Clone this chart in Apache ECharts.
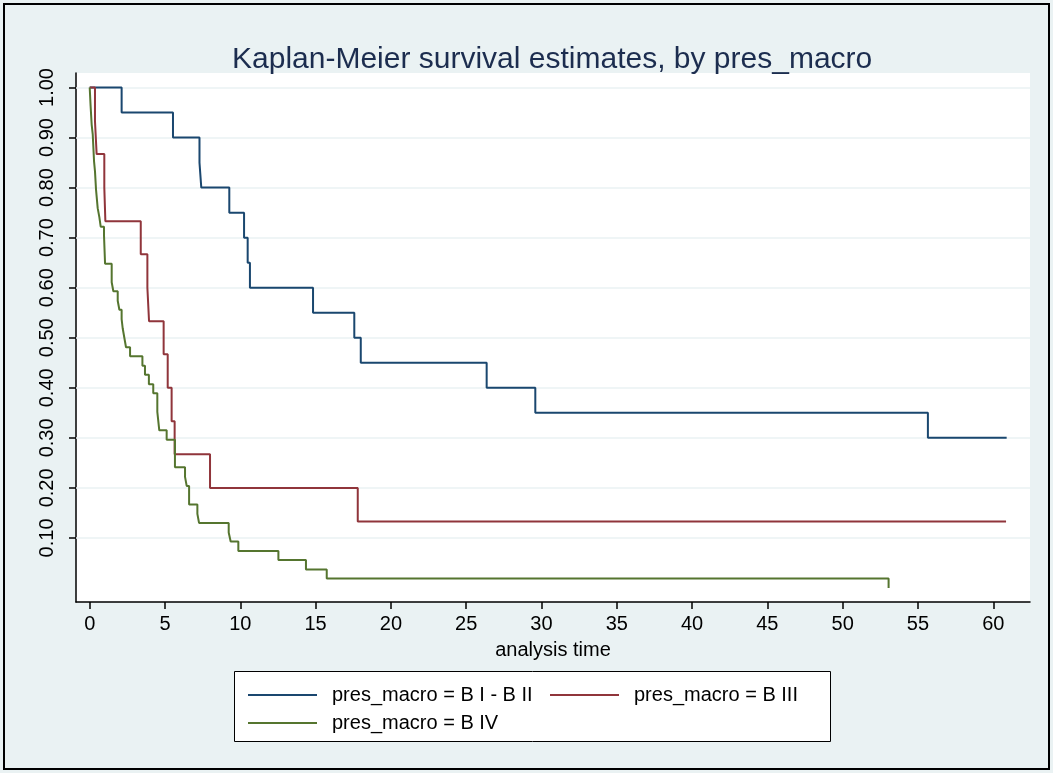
<!DOCTYPE html>
<html>
<head>
<meta charset="utf-8">
<script src="https://cdn.jsdelivr.net/npm/echarts@6/dist/echarts.min.js"></script>
<style>
  html, body { margin: 0; padding: 0; background: #eaf2f3; }
  #chart { width: 1053px; height: 773px; }
</style>
</head>
<body>
<div id="chart"></div>
<script>
// Labels and ticks
const chartTitle = 'Kaplan-Meier survival estimates, by pres_macro';
const xAxisTitle = 'analysis time';
const xTickValues = [0, 5, 10, 15, 20, 25, 30, 35, 40, 45, 50, 55, 60];
const yTickValues = [0.1, 0.2, 0.3, 0.4, 0.5, 0.6, 0.7, 0.8, 0.9, 1.0];
const groupNames = ['pres_macro = B I - B II', 'pres_macro = B III', 'pres_macro = B IV'];

// Kaplan-Meier step functions: time of each step and survival after it
const timesB12 = [0, 2.12, 5.53, 7.29, 7.41, 9.27, 10.25, 10.49, 10.64, 14.83, 17.57, 18.0, 26.36, 29.59, 55.66, 60.89];
const survB12  = [1.0, 0.95, 0.90, 0.85, 0.80, 0.75, 0.70, 0.65, 0.60, 0.55, 0.50, 0.45, 0.40, 0.35, 0.30, 0.30];

const timesB3 = [0, 0.35, 0.46, 0.97, 1.04, 3.39, 3.83, 3.94, 4.91, 5.18, 5.44, 5.64, 7.99, 17.8, 60.85];
const survB3  = [1.0, 0.933, 0.867, 0.800, 0.733, 0.667, 0.600, 0.533, 0.467, 0.400, 0.333, 0.267, 0.200, 0.133, 0.133];

const timesB4 = [0, 0.06, 0.13, 0.20, 0.29, 0.35, 0.42, 0.53, 0.64, 0.73, 0.95, 1.02, 1.46, 1.57, 1.86, 1.97,
                 2.12, 2.19, 2.30, 2.41, 2.68, 3.50, 3.67, 3.93, 4.22, 4.49, 4.62, 5.11, 5.66, 6.33, 6.44,
                 6.60, 7.15, 7.26, 9.23, 9.36, 9.87, 12.53, 14.36, 15.74, 53.05];
const survB4  = [1.0, 0.963, 0.926, 0.907, 0.852, 0.833, 0.796, 0.759, 0.741, 0.722, 0.704, 0.648, 0.611, 0.593, 0.574, 0.556,
                 0.537, 0.519, 0.500, 0.481, 0.463, 0.444, 0.426, 0.407, 0.389, 0.352, 0.315, 0.296, 0.241, 0.222, 0.204,
                 0.167, 0.148, 0.130, 0.111, 0.093, 0.074, 0.056, 0.037, 0.019, 0.0];

const colors = ['#1a476f', '#90353b', '#55752f'];
const fontFamily = '"Liberation Sans", Arial, sans-serif';

function pairs(t, s) { return t.map((v, i) => [v, s[i]]); }

const chart = echarts.init(document.getElementById('chart'), null, { renderer: 'canvas' });

function kmSeries(name, t, s, color) {
  return {
    name: name, type: 'line', step: 'end', data: pairs(t, s),
    showSymbol: false, symbol: 'none', animation: false, z: 10,
    lineStyle: { color: color, width: 2 }, itemStyle: { color: color }
  };
}

chart.setOption({
  backgroundColor: '#eaf2f3',
  animation: false,
  title: {
    text: chartTitle, left: 227, top: 40,
    textStyle: { fontFamily: fontFamily, fontSize: 30, fontWeight: 'normal', color: '#1c2d4f' }
  },
  grid: { left: 76, top: 73, right: 23, bottom: 171, show: true, backgroundColor: '#ffffff', borderWidth: 0 },
  xAxis: {
    type: 'value', min: -0.91, max: 62.44,
    name: xAxisTitle, nameLocation: 'middle', nameGap: 38,
    nameTextStyle: { fontFamily: fontFamily, fontSize: 20, color: '#000' },
    axisLine: { show: true, onZero: false, lineStyle: { color: '#000', width: 1.5 } },
    axisTick: { show: true, customValues: xTickValues, length: 7, lineStyle: { color: '#000', width: 1.5 } },
    axisLabel: { customValues: xTickValues, margin: 12, fontFamily: fontFamily, fontSize: 20, color: '#000' },
    splitLine: { show: false }
  },
  yAxis: {
    type: 'value', min: -0.028, max: 1.029,
    axisLine: { show: true, onZero: false, lineStyle: { color: '#000', width: 1.5 } },
    axisTick: { show: true, customValues: yTickValues, length: 7, lineStyle: { color: '#000', width: 1.5 } },
    axisLabel: {
      customValues: yTickValues, rotate: 90, margin: 19,
      fontFamily: fontFamily, fontSize: 20, color: '#000',
      formatter: v => v.toFixed(2)
    },
    splitLine: { show: false }
  },
  legend: {
    data: groupNames.map(n => ({ name: n, icon: 'rect' })),
    left: 243, top: 680, width: 640,
    orient: 'horizontal', itemWidth: 69, itemHeight: 2, itemGap: 8,
    textStyle: { fontFamily: fontFamily, fontSize: 20, color: '#000', width: 210, lineHeight: 20, padding: [0, 0, 0, 10] }
  },
  graphic: [
    { type: 'rect', z: -1, shape: { x: 234.5, y: 671.5, width: 596, height: 70 },
      style: { fill: '#ffffff', stroke: '#000', lineWidth: 1 } },
    { type: 'rect', z: 100, shape: { x: 4, y: 4, width: 1045, height: 765 },
      style: { fill: 'none', stroke: '#000', lineWidth: 2 } }
  ],
  series: [
    {
      type: 'line', data: [], silent: true, z: 1,
      markLine: {
        silent: true, symbol: 'none', label: { show: false }, animation: false, z: 1,
        lineStyle: { color: '#eaf2f3', width: 1.5, type: 'solid' },
        data: yTickValues.map(v => ({ yAxis: v }))
      }
    },
    kmSeries(groupNames[0], timesB12, survB12, colors[0]),
    kmSeries(groupNames[1], timesB3, survB3, colors[1]),
    kmSeries(groupNames[2], timesB4, survB4, colors[2])
  ]
});
</script>
</body>
</html>
